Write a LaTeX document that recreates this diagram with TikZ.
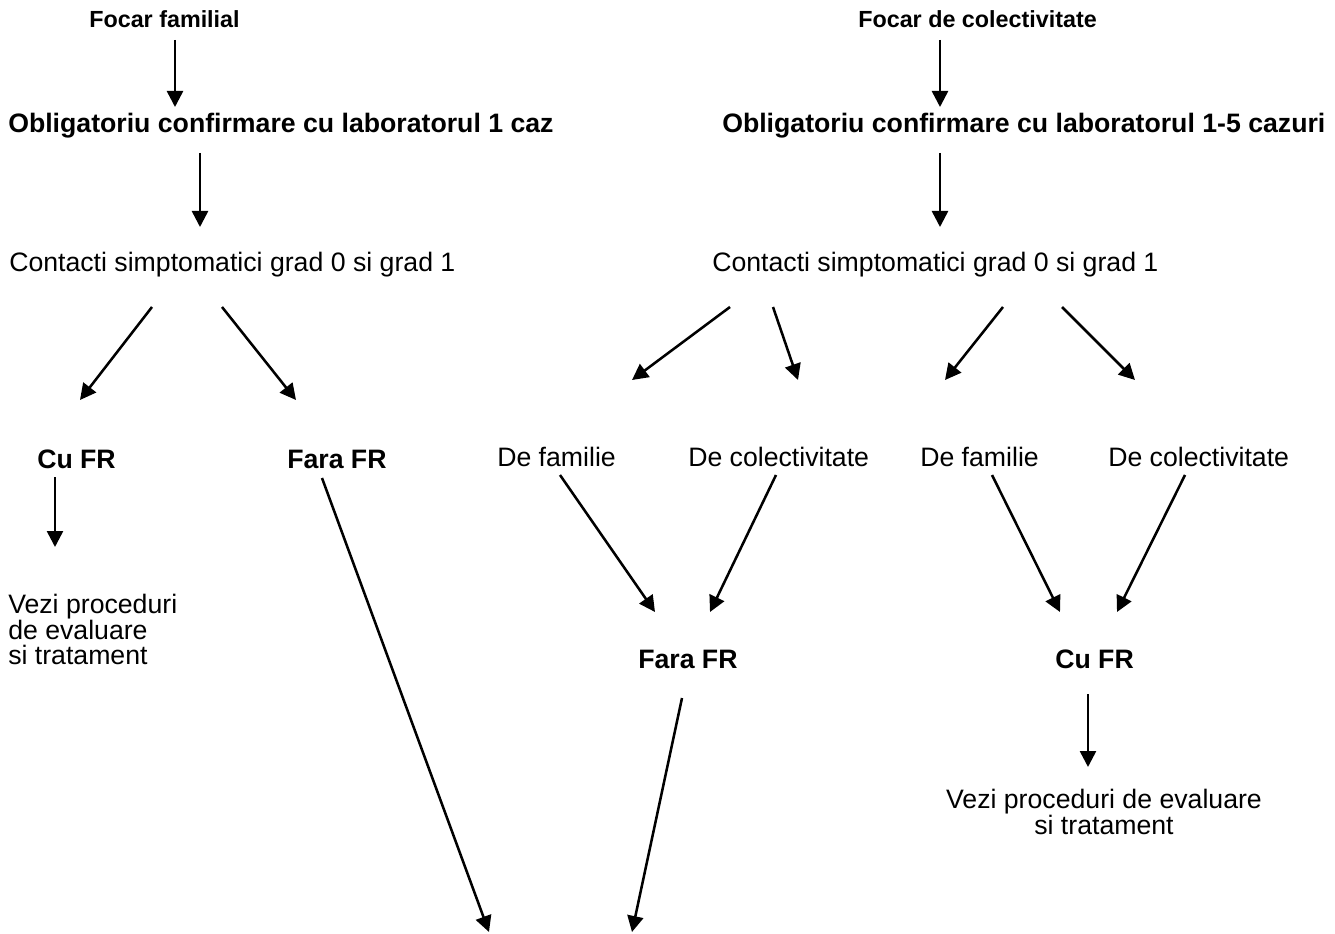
\documentclass[tikz,border=0pt]{standalone}
\usepackage{fontspec}
\setmainfont{Liberation Sans}
\usetikzlibrary{arrows.meta}

\newcommand{\txtsz}{\fontsize{20}{19.2}\selectfont}
\newcommand{\hdrsz}{\fontsize{17.5}{20}\selectfont}

\begin{document}
\begin{tikzpicture}[x=0.75pt, y=-0.75pt,
            lbl/.style = {inner sep = 0, anchor = base west, font = \txtsz},
            bold lbl/.style = {lbl, font = \txtsz\bfseries},
            hdr/.style = {lbl, font = \hdrsz\bfseries},
            arr/.style = {black, line width = 1.9pt, -{Triangle[length = 12pt, width = 12pt]}}]
            \useasboundingbox (0, 0) rectangle (1335, 934);

            % familial
            \node[hdr] (focar_fam) at (89, 28) {Focar familial};
            \node[bold lbl] (conf_fam) at (8, 133) {Obligatoriu confirmare cu laboratorul 1 caz};
            \node[lbl] (cont_fam) at (9, 272) {Contacti simptomatici grad 0 si grad 1};
            \node[bold lbl] (cu_fam) at (37, 468) {Cu FR};
            \node[bold lbl] (fara_fam) at (287, 468) {Fara FR};
            \node[lbl, anchor = north west, align = left] (vezi_fam) at (8, 594) {Vezi proceduri\\de evaluare\\si tratament};

            \coordinate (a1s) at (175, 40);   \coordinate (a1e) at (175, 107);
            \coordinate (a2s) at (200, 153);  \coordinate (a2e) at (200, 227);
            \coordinate (a3s) at (152, 307);  \coordinate (a3e) at (80, 400);
            \coordinate (a4s) at (222, 307);  \coordinate (a4e) at (296, 400);
            \coordinate (a5s) at (55, 477);   \coordinate (a5e) at (55, 547);
            \coordinate (a6s) at (322, 478);  \coordinate (a6e) at (489, 932);

            \foreach \s/\e in {a1s/a1e, a2s/a2e, a3s/a3e, a4s/a4e, a5s/a5e, a6s/a6e}
                \draw[arr] (\s) -- (\e);

            % colectivitate
            \node[hdr] (focar_col) at (858, 28) {Focar de colectivitate};
            \node[bold lbl] (conf_col) at (722, 133) {Obligatoriu confirmare cu laboratorul 1-5 cazuri};
            \node[lbl] (cont_col) at (712, 272) {Contacti simptomatici grad 0 si grad 1};
            \node[lbl] (fam_a) at (497, 466) {De familie};
            \node[lbl] (col_a) at (688, 466) {De colectivitate};
            \node[lbl] (fam_b) at (920, 466) {De familie};
            \node[lbl] (col_b) at (1108, 466) {De colectivitate};
            \node[bold lbl] (fara_col) at (638, 668) {Fara FR};
            \node[bold lbl] (cu_col) at (1055, 668) {Cu FR};
            \node[lbl, anchor = north, align = center] (vezi_col) at (1104, 789) {Vezi proceduri de evaluare\\ si tratament};

            \coordinate (b1s) at (940, 40);   \coordinate (b1e) at (940, 107);
            \coordinate (b2s) at (940, 153);  \coordinate (b2e) at (940, 227);
            \coordinate (b3s) at (730, 307);  \coordinate (b3e) at (632, 380);
            \coordinate (b4s) at (773, 307);  \coordinate (b4e) at (798, 380);
            \coordinate (b5s) at (1003, 307); \coordinate (b5e) at (945, 380);
            \coordinate (b6s) at (1062, 307); \coordinate (b6e) at (1135, 380);
            \coordinate (b7s) at (560, 475);  \coordinate (b7e) at (655, 612);
            \coordinate (b8s) at (776, 475);  \coordinate (b8e) at (710, 612);
            \coordinate (b9s) at (992, 475);  \coordinate (b9e) at (1060, 612);
            \coordinate (b10s) at (1185, 475); \coordinate (b10e) at (1117, 612);
            \coordinate (b11s) at (682, 698); \coordinate (b11e) at (632, 932);
            \coordinate (b12s) at (1088, 694); \coordinate (b12e) at (1088, 767);

            \foreach \s/\e in {b1s/b1e, b2s/b2e, b3s/b3e, b4s/b4e, b5s/b5e, b6s/b6e,
                               b7s/b7e, b8s/b8e, b9s/b9e, b10s/b10e, b11s/b11e, b12s/b12e}
                \draw[arr] (\s) -- (\e);
\end{tikzpicture}
\end{document}
